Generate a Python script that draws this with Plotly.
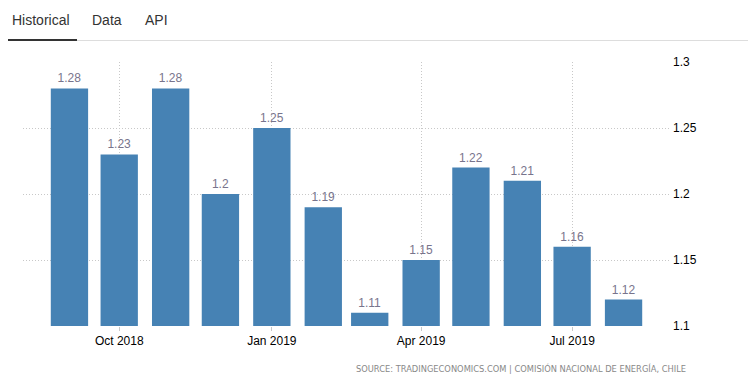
import plotly.graph_objects as go

months = ["2018-09-01", "2018-10-01", "2018-11-01", "2018-12-01", "2019-01-01", "2019-02-01",
          "2019-03-01", "2019-04-01", "2019-05-01", "2019-06-01", "2019-07-01", "2019-08-01"]
values = [1.28, 1.23, 1.28, 1.2, 1.25, 1.19, 1.11, 1.15, 1.22, 1.21, 1.16, 1.12]
y_ticks = [1.1, 1.15, 1.2, 1.25, 1.3]
y_tick_labels = ["1.1", "1.15", "1.2", "1.25", "1.3"]
x_tick_vals = ["2018-10-01", "2019-01-01", "2019-04-01", "2019-07-01"]
x_tick_labels = ["Oct 2018", "Jan 2019", "Apr 2019", "Jul 2019"]
tabs = ["Historical", "Data", "API"]
source = "SOURCE: TRADINGECONOMICS.COM | COMISIÓN NACIONAL DE ENERGÍA, CHILE"

OFF = 8  # page body margin
W, H = 756 - OFF, 381 - OFF
# plot area in screenshot pixels
X0, X1, Y0, Y1 = 23, 670, 62, 326
L, T = X0 - OFF, Y0 - OFF
R, B = W - (X1 - OFF), H - (Y1 - OFF)
pw, ph = X1 - X0, Y1 - Y0

def px(x):
    return (x - X0) / pw

def py(y):
    return (Y1 - y) / ph

fig = go.Figure(go.Bar(
    x=months, y=[v - 1.1 for v in values], base=1.1,
    width=22.5 * 86400000,
    marker=dict(color="#4682B4", line=dict(width=0)),
    text=[f"{v:g}" for v in values], textposition="outside",
    textfont=dict(family="Liberation Sans, Arial", size=12, color="#78748c"),
    cliponaxis=False, hoverinfo="skip",
))

fig.update_layout(
    width=W, height=H,
    margin=dict(l=L, r=R, t=T, b=B),
    paper_bgcolor="white", plot_bgcolor="white",
    showlegend=False,
    xaxis=dict(type="date", range=["2018-08-04", "2019-08-29"],
               tickvals=x_tick_vals, ticktext=x_tick_labels,
               showgrid=True, gridcolor="#c8c8c8", griddash="1px,2px", gridwidth=1,
               ticks="outside", ticklen=4, tickcolor="#c8c8c8",
               tickfont=dict(family="Liberation Sans, Arial", size=12, color="#000"),
               showline=False, zeroline=False, fixedrange=True),
    yaxis=dict(range=[1.1, 1.3], side="right", tickvals=y_ticks, ticktext=y_tick_labels,
               showgrid=True, gridcolor="#c8c8c8", griddash="1px,2px", gridwidth=1,
               tickfont=dict(family="Liberation Sans, Arial", size=12, color="#000"),
               ticks="", ticklabelstandoff=2, zeroline=False, showline=False, fixedrange=True),
    font=dict(family="Liberation Sans, Arial"),
)

# tabs
tab_x = [10, 90, 143]
for t, x in zip(tabs, tab_x):
    fig.add_annotation(text=t, x=px(x), y=py(20), xref="paper", yref="paper",
                       xanchor="left", yanchor="middle", showarrow=False,
                       font=dict(family="Liberation Sans, Arial", size=14, color="#333333"))
fig.add_shape(type="line", xref="paper", yref="paper", x0=px(77), x1=px(750), y0=py(40.5), y1=py(40.5),
              line=dict(color="#dddddd", width=1))
fig.add_shape(type="line", xref="paper", yref="paper", x0=px(OFF), x1=px(77), y0=py(40), y1=py(40),
              line=dict(color="#333333", width=2))

fig.add_annotation(text=source, x=px(688), y=py(368), xref="paper", yref="paper",
                   xanchor="right", yanchor="middle", showarrow=False,
                   font=dict(family="DejaVu Sans", size=8.3, color="#888888"))

fig.write_html("out.html")
